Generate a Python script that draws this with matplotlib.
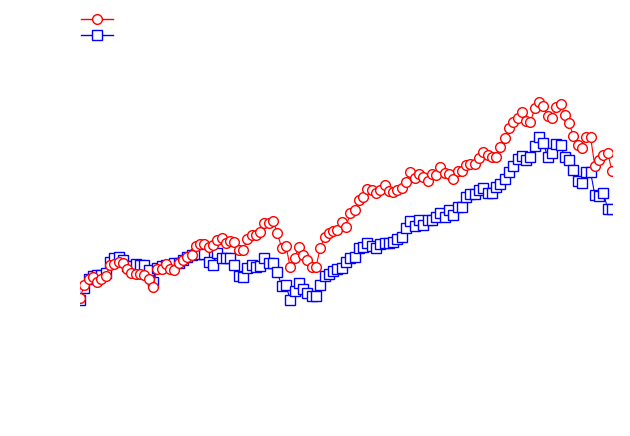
import numpy as np
import matplotlib.pyplot as plt
from matplotlib.lines import Line2D

# two series (height units, bottom = 0)
red_px = [298, 285, 279, 277, 282, 279, 276, 265, 264, 262,
          263, 269, 273, 274, 274, 275, 279, 287, 269, 269,
          264, 269, 270, 263, 260, 257, 255, 246, 244, 244,
          247, 245, 240, 238, 243, 241, 242, 250, 250, 239,
          235, 235, 232, 223, 223, 221, 233, 248, 246, 267,
          258, 247, 255, 260, 267, 267, 248, 237, 233, 231,
          230, 222, 227, 213, 210, 200, 197, 189, 190, 193,
          190, 185, 191, 192, 190, 188, 182, 172, 178, 174,
          177, 181, 174, 175, 167, 173, 174, 179, 171, 171,
          165, 164, 164, 158, 152, 155, 157, 157, 147, 138,
          128, 122, 118, 112, 121, 122, 108, 102, 106, 116,
          118, 107, 104, 115, 123, 136, 145, 148, 137, 137,
          166, 160, 155, 153, 171]
blue_px = [300, 288, 279, 276, 275, 275, 273, 262, 258, 257,
           260, 266, 266, 264, 265, 265, 270, 282, 268, 266,
           265, 266, 263, 263, 260, 257, 255, 254, 254, 254,
           262, 265, 253, 258, 258, 258, 265, 276, 277, 268,
           265, 267, 266, 258, 263, 263, 272, 286, 285, 300,
           291, 283, 289, 293, 296, 296, 285, 276, 274, 271,
           269, 268, 262, 258, 257, 248, 247, 243, 246, 248,
           244, 243, 243, 242, 239, 237, 228, 221, 226, 220,
           225, 220, 220, 217, 213, 217, 210, 215, 207, 207,
           197, 194, 194, 190, 188, 193, 193, 187, 184, 179,
           172, 166, 159, 156, 160, 157, 146, 137, 143, 157,
           153, 144, 145, 157, 160, 170, 181, 183, 172, 172,
           195, 196, 193, 209, 209]

H = 436
red = [H - v for v in red_px]
blue = [H - v for v in blue_px]
x = np.arange(len(red))

fig = plt.figure(figsize=(6.3, 4.36), dpi=100)
ax = fig.add_axes([80 / 630, 0, 532 / 630, 1])
ax.plot(x, blue, color='blue', lw=0.8, marker='s', ms=7.5, mfc='white',
        mec='blue', mew=1, zorder=2)
ax.plot(x, red, color='red', lw=0.8, marker='o', ms=7, mfc='white',
        mec='red', mew=1, zorder=3)
ax.set_xlim(0, len(x) - 1)
ax.set_ylim(0, H)
ax.axis('off')

h1 = Line2D([], [], color='red', lw=1, marker='o', ms=7, mfc='white', mec='red', mew=1)
h2 = Line2D([], [], color='blue', lw=1, marker='s', ms=7.5, mfc='white', mec='blue', mew=1)
fig.legend([h1, h2], ['', ''], loc='upper left', bbox_to_anchor=(74 / 630, 1 - 6 / 436),
           frameon=False, borderpad=0, handlelength=2.3, handletextpad=0,
           labelspacing=0.15)

fig.savefig('out.png', dpi=100)
